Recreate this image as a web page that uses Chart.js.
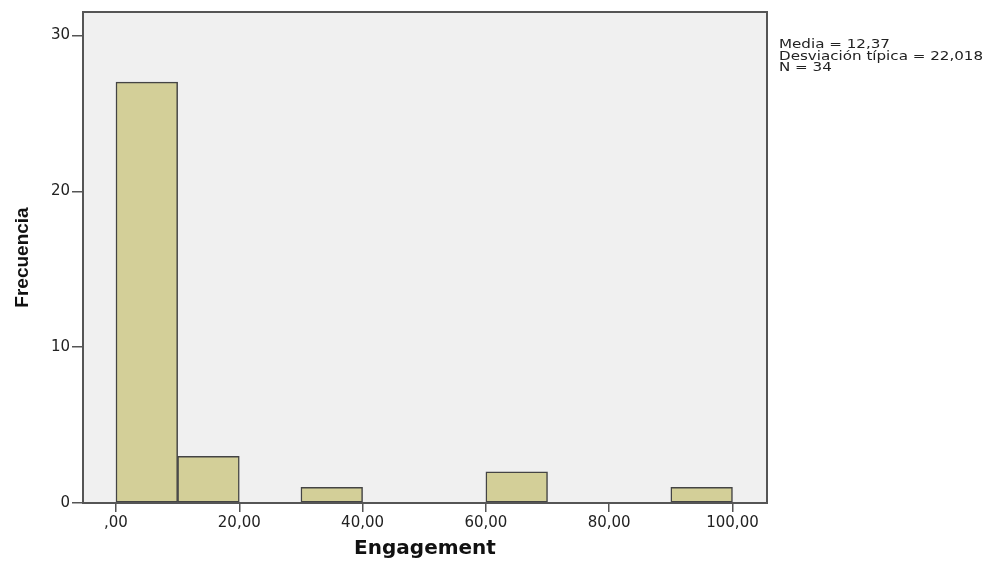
<!DOCTYPE html>
<html>
<head>
<meta charset="utf-8">
<script src="https://cdn.jsdelivr.net/npm/chart.js@4.4.0/dist/chart.umd.min.js"></script>
<style>
    body { margin: 0; background: #fff; }
    #wrap { position: relative; width: 990px; height: 562px; }
    #stats {
        position: absolute; left: 779px; top: 39px;
        font: 12px "DejaVu Sans", sans-serif; line-height: 11.5px; color: #222;
        transform: scaleX(1.26); transform-origin: left top; white-space: nowrap;
    }
</style>
</head>
<body>
<div id="wrap">
    <canvas id="histChart" width="990" height="562"></canvas>
    <div id="stats">Media = 12,37<br>Desviación típica = 22,018<br>N = 34</div>
</div>
<script>
// Histogram bins (centre of each 10-wide bin) and their counts
const binCenters = [5, 15, 25, 35, 45, 55, 65, 75, 85, 95];
const counts = [27, 3, 0, 1, 0, 0, 2, 0, 0, 1];

// Tick values and labels
const xTicks = [0, 20, 40, 60, 80, 100];
const xTickLabels = [',00', '20,00', '40,00', '60,00', '80,00', '100,00'];
const yTicks = [0, 10, 20, 30];

const axisColor = '#555';

// Gray plot background and full frame round the chart area
const plotFrame = {
    id: 'plotFrame',
    beforeDraw(chart) {
        const { ctx, chartArea: a } = chart;
        ctx.save();
        ctx.fillStyle = '#f0f0f0';
        ctx.fillRect(a.left, a.top, a.right - a.left, a.bottom - a.top);
        ctx.restore();
    },
    afterDatasetsDraw(chart) {
        const { ctx, chartArea: a } = chart;
        ctx.save();
        ctx.strokeStyle = axisColor;
        ctx.lineWidth = 2;
        ctx.strokeRect(a.left, a.top, a.right - a.left, a.bottom - a.top);
        ctx.restore();
    }
};

const ctx = document.getElementById('histChart').getContext('2d');
new Chart(ctx, {
    type: 'bar',
    data: {
        datasets: [{
            data: binCenters.map((x, i) => ({ x: x, y: counts[i] })),
            backgroundColor: '#d3cf98',
            borderColor: '#444',
            borderWidth: (c) => (c.raw && c.raw.y > 0 ? 1.5 : 0),
            borderSkipped: false,
            barPercentage: 1,
            categoryPercentage: 1
        }]
    },
    options: {
        responsive: false,
        animation: false,
        layout: { padding: { left: 0, right: 223, top: 12, bottom: 0 } },
        plugins: { legend: { display: false }, tooltip: { enabled: false } },
        scales: {
            x: {
                type: 'linear',
                min: -5.35,
                max: 105.6,
                offset: false,
                afterBuildTicks: (s) => { s.ticks = xTicks.map(v => ({ value: v })); },
                afterFit: (s) => { s.height = 59; },
                grid: { offset: false, drawOnChartArea: false, tickLength: 9, color: axisColor, lineWidth: 1.5 },
                border: { color: axisColor, width: 2 },
                ticks: {
                    autoSkip: false,
                    maxRotation: 0,
                    padding: 2,
                    color: '#222',
                    font: { family: 'DejaVu Sans', size: 15 },
                    callback: (v) => xTickLabels[xTicks.indexOf(v)]
                },
                title: {
                    display: true,
                    text: 'Engagement',
                    color: '#111',
                    font: { family: 'DejaVu Sans', size: 20, weight: 'bold' },
                    padding: { top: 0, bottom: 1 }
                }
            },
            y: {
                min: 0,
                max: 31.5,
                afterBuildTicks: (s) => { s.ticks = yTicks.map(v => ({ value: v })); },
                afterFit: (s) => { s.width = 83; },
                grid: { drawOnChartArea: false, tickLength: 11, color: axisColor, lineWidth: 1.5 },
                border: { color: axisColor, width: 2 },
                ticks: {
                    padding: 2,
                    color: '#222',
                    font: { family: 'DejaVu Sans', size: 15 }
                },
                title: {
                    display: true,
                    text: 'Frecuencia',
                    color: '#111',
                    font: { family: 'Liberation Sans', size: 19, weight: 'bold' },
                    padding: { top: 11, bottom: 0 }
                }
            }
        }
    },
    plugins: [plotFrame]
});
</script>
</body>
</html>
